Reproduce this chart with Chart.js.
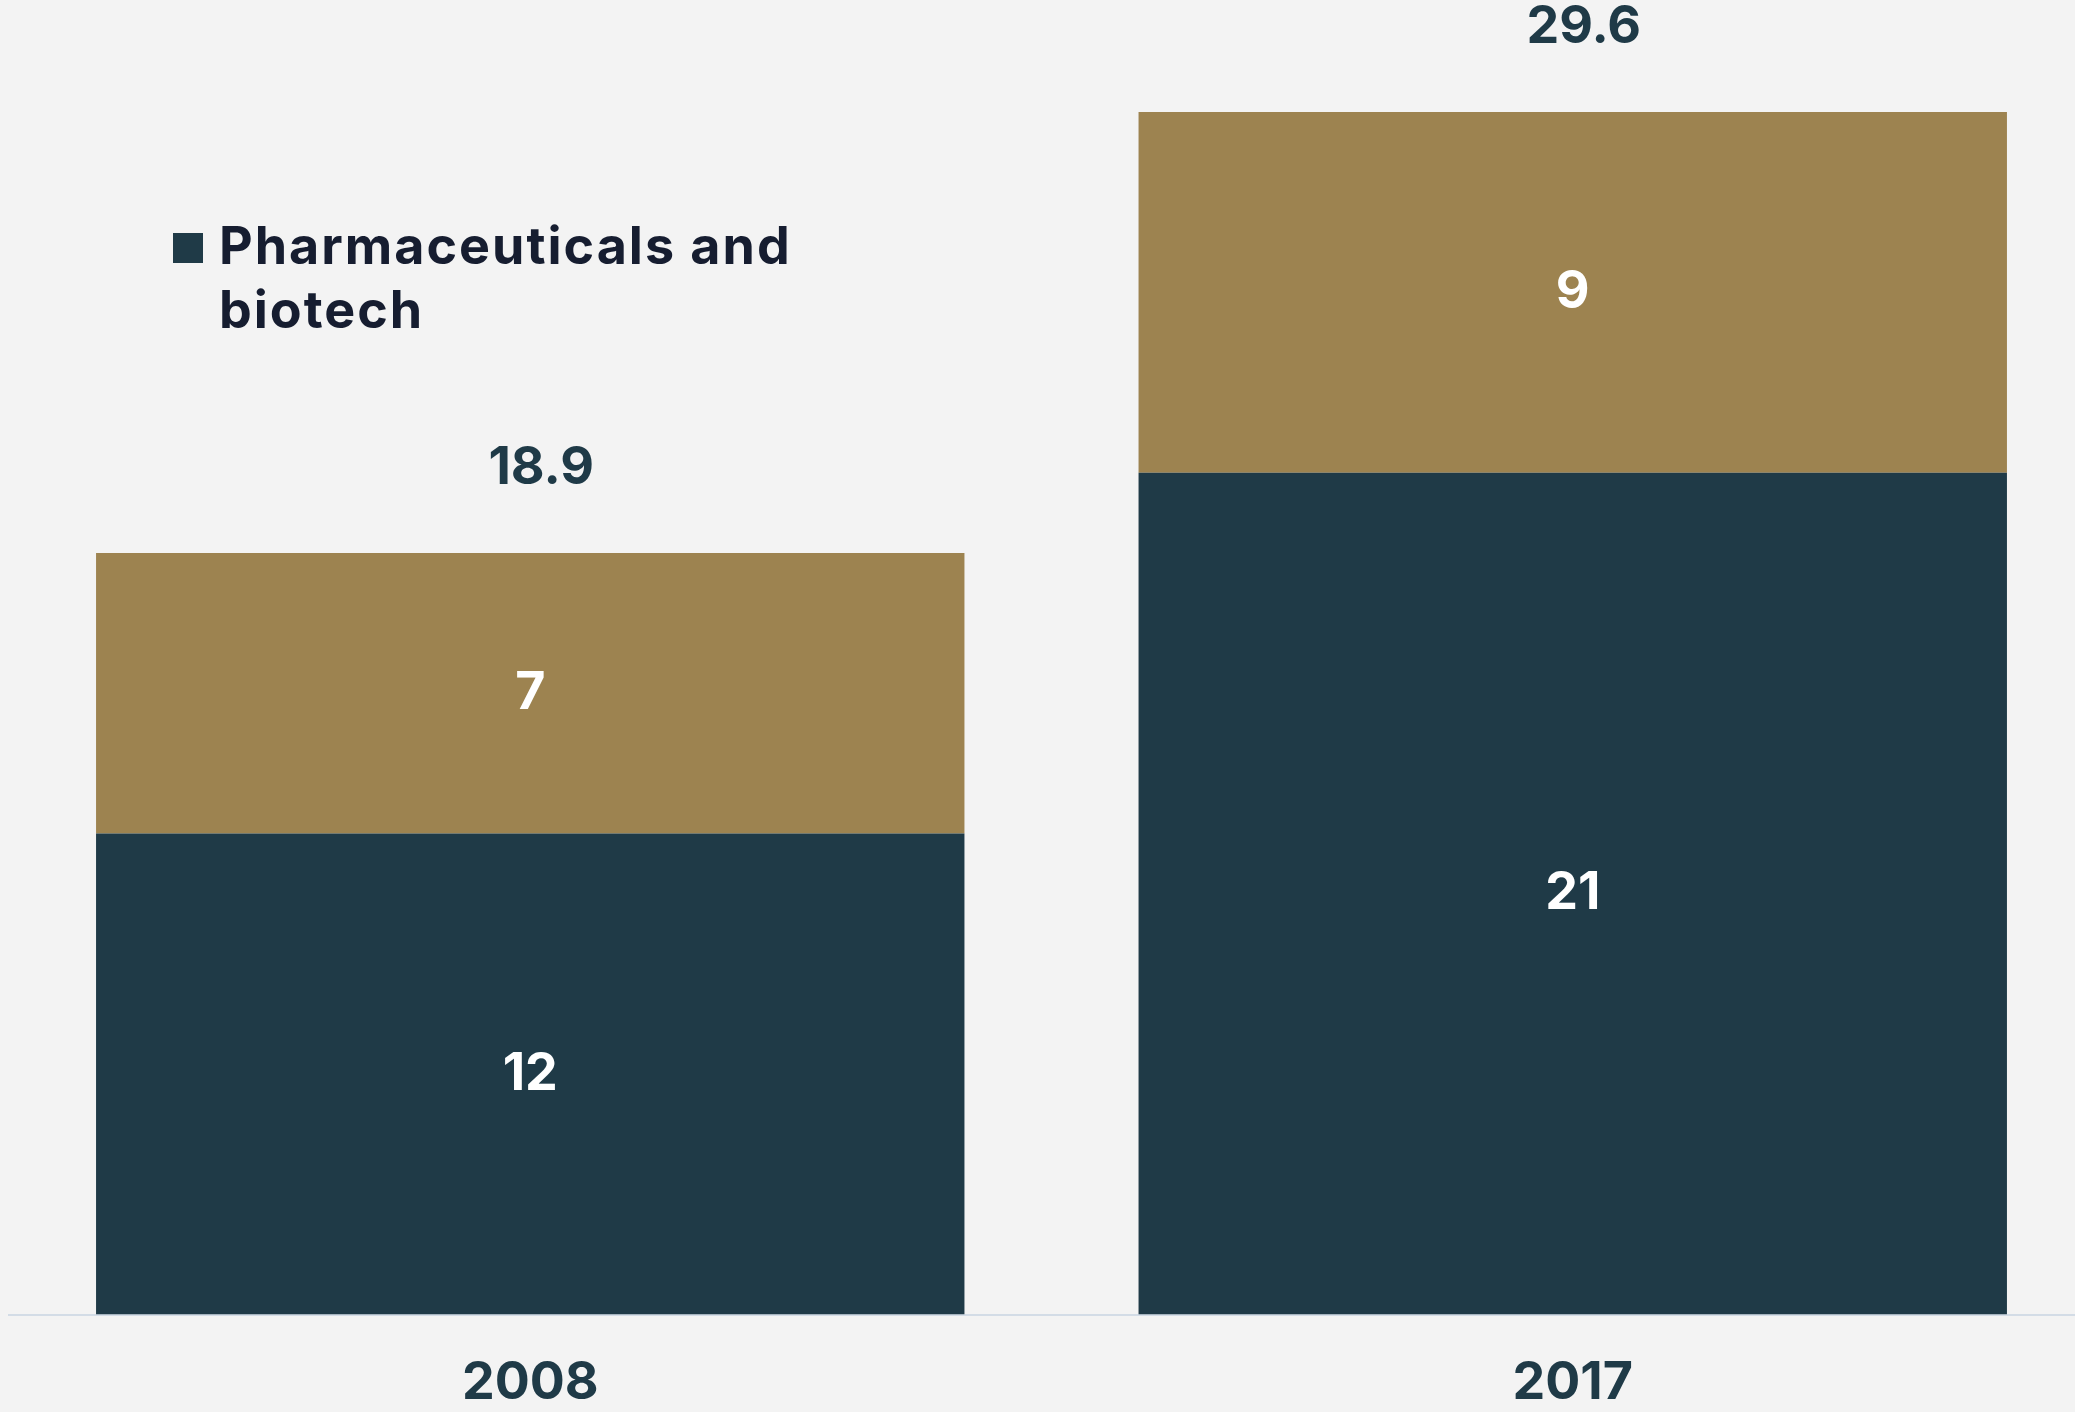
<!DOCTYPE html>
<html>
<head>
<meta charset="utf-8">
<title>Pharmaceuticals and biotech</title>
<script src="https://cdn.jsdelivr.net/npm/chart.js@4.4.1/dist/chart.umd.min.js"></script>
<style>
  html, body { margin: 0; padding: 0; background: #f3f3f3; overflow: hidden; }
  #wrap { width: 2094px; height: 1453px; }
</style>
</head>
<body>
<div id="wrap"><canvas id="chart" width="2094" height="1453"></canvas></div>
<script>
// ---- data ---------------------------------------------------------------
const years         = ["2008", "2017"];
const pharmaBiotech = [12, 21];
const otherSectors  = [7, 9];
const totals        = [18.9, 29.6];

const DARK  = "#1f3a47";
const GOLD  = "#9d8350";
const INK   = "#161d30";
const FONT  = "Inter, 'Noto Sans', sans-serif";

// ---- in-bar values + totals above each stack ------------------------------
const valueLabels = {
  id: "valueLabels",
  afterDatasetsDraw(chart) {
    const ctx = chart.ctx;
    ctx.save();
    ctx.font = `700 52px ${FONT}`;
    ctx.textAlign = "center";
    ctx.textBaseline = "middle";
    chart.data.datasets.forEach((ds, di) => {
      chart.getDatasetMeta(di).data.forEach((bar, i) => {
        ctx.fillStyle = "#ffffff";
        ctx.fillText(String(ds.data[i]), bar.x, (bar.y + bar.base) / 2);
      });
    });
    const top = chart.getDatasetMeta(chart.data.datasets.length - 1);
    ctx.fillStyle = DARK;
    top.data.forEach((bar, i) => {
      ctx.fillText(totals[i].toFixed(1), bar.x + 11, bar.y - 85);
    });
    ctx.restore();
  }
};

// ---- single legend entry, wrapped onto two lines --------------------------
function wrapText(ctx, text, maxW) {
  const words = text.split(" ");
  const lines = [];
  let line = "";
  words.forEach(w => {
    const test = line ? line + " " + w : w;
    if (ctx.measureText(test).width > maxW && line) {
      lines.push(line);
      line = w;
    } else {
      line = test;
    }
  });
  if (line) lines.push(line);
  return lines;
}

const legendBox = {
  id: "legendBox",
  afterDraw(chart) {
    const ds = chart.data.datasets[0];
    const ctx = chart.ctx;
    ctx.save();
    ctx.fillStyle = ds.backgroundColor;
    ctx.fillRect(173, 233, 30, 30);
    ctx.font = `700 52px ${FONT}`;
    ctx.letterSpacing = "2px";
    ctx.fillStyle = INK;
    ctx.textAlign = "left";
    ctx.textBaseline = "alphabetic";
    wrapText(ctx, ds.label, 640).forEach((ln, k) => {
      ctx.fillText(ln, 219, 264 + k * 64);
    });
    ctx.restore();
  }
};

// ---- chart ----------------------------------------------------------------
new Chart(document.getElementById("chart"), {
  type: "bar",
  data: {
    labels: years,
    datasets: [
      { label: "Pharmaceuticals and biotech", data: pharmaBiotech, backgroundColor: DARK },
      { label: "Other", data: otherSectors, backgroundColor: GOLD }
    ]
  },
  options: {
    responsive: false,
    animation: false,
    layout: { padding: { top: 112, left: 9, right: 0, bottom: 0 } },
    datasets: { bar: { categoryPercentage: 1, barPercentage: 0.833 } },
    scales: {
      x: {
        stacked: true,
        grid: { display: false, drawTicks: false },
        border: { color: "#d3dce6", width: 2 },
        ticks: { color: DARK, padding: 38, font: { family: FONT, size: 52, weight: "700" } }
      },
      y: { stacked: true, display: false, min: 0, max: 30 }
    },
    plugins: { legend: { display: false }, tooltip: { enabled: false } }
  },
  plugins: [valueLabels, legendBox]
});
</script>
</body>
</html>
